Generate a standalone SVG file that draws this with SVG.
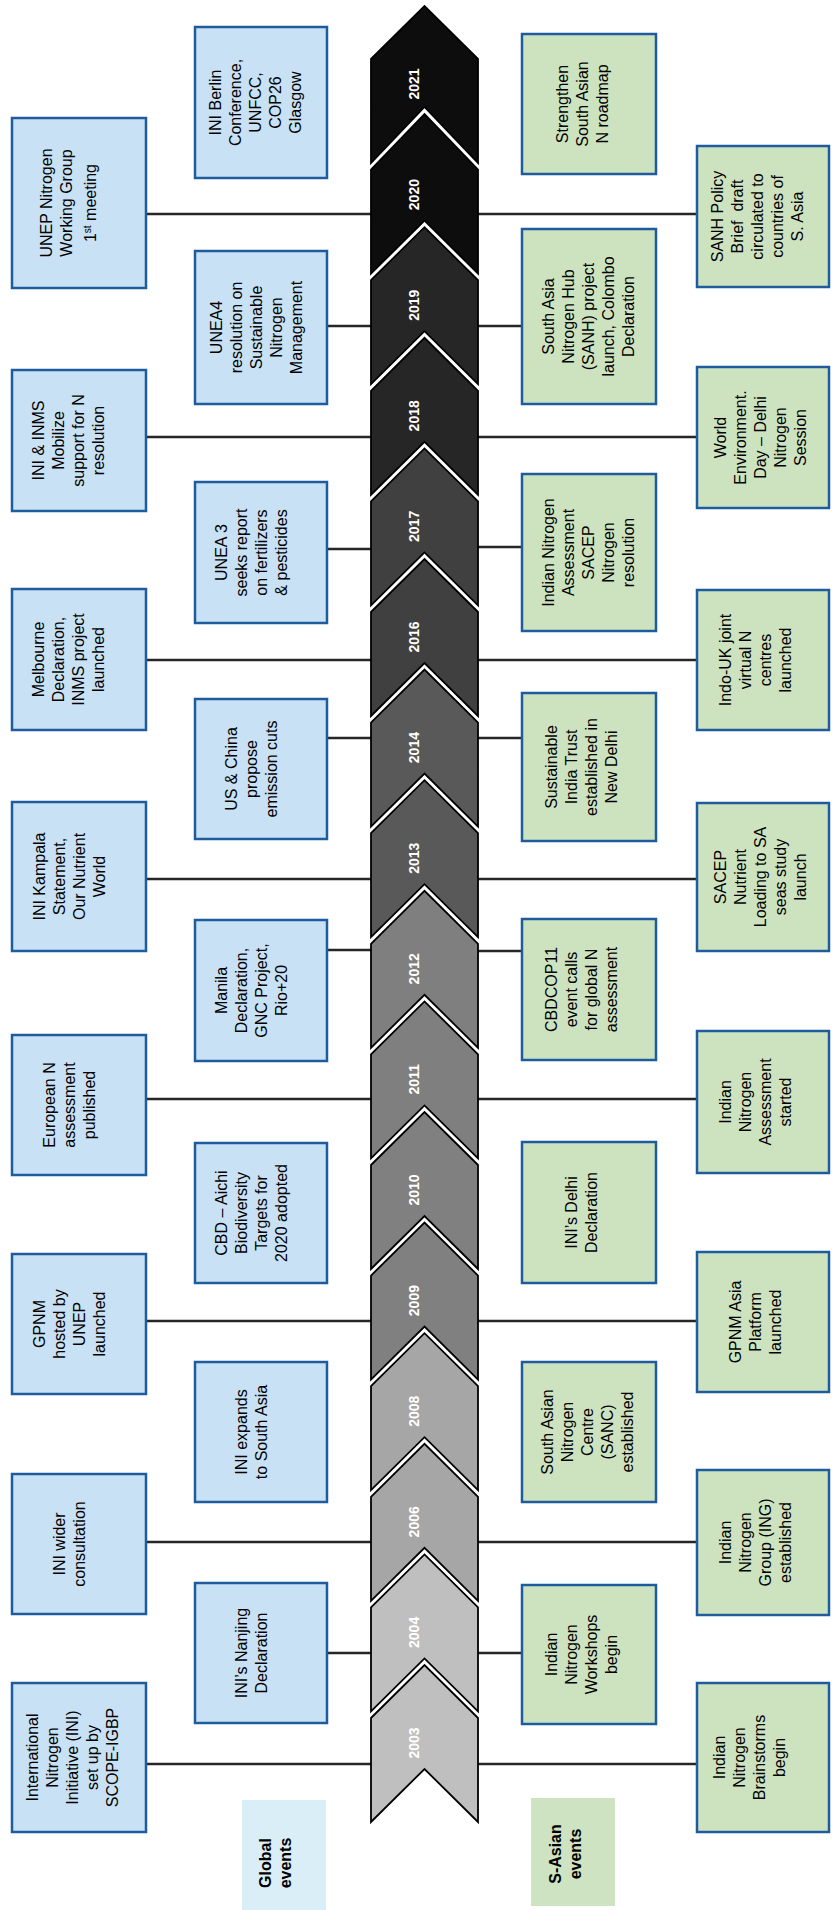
<svg xmlns="http://www.w3.org/2000/svg" width="835" height="1910" viewBox="0 0 835 1910">
<style>
.g{fill:#C8E1F5;stroke:#1F5C9E;stroke-width:2.5}
.s{fill:#CDE3C0;stroke:#1F5C9E;stroke-width:2.5}
.t{font-family:"Liberation Sans",Arial,sans-serif;font-size:16px;fill:#000;text-anchor:middle}
.b{font-weight:bold}
.yr{font-family:"Liberation Sans",Arial,sans-serif;font-size:14px;font-weight:bold;fill:#fff;text-anchor:middle}
.cv{stroke:#000;stroke-width:1.8;stroke-linejoin:miter}
.ln{stroke:#262626;stroke-width:2.4;fill:none}
</style>
<rect width="835" height="1910" fill="#fff"/>
<g id="connectors">
<path class="ln" d="M146,1764H371M478,1764H697"/>
<path class="ln" d="M327,1653H371M478,1653H522"/>
<path class="ln" d="M146,1542H371M478,1542H697"/>
<path class="ln" d="M146,1321H371M478,1321H697"/>
<path class="ln" d="M146,1099H371M478,1099H697"/>
<path class="ln" d="M327,950H371M478,951H522"/>
<path class="ln" d="M146,879H371M478,879H697"/>
<path class="ln" d="M327,738H371M478,738H522"/>
<path class="ln" d="M146,660H371M478,660H697"/>
<path class="ln" d="M327,549H371M478,547H522"/>
<path class="ln" d="M146,437H371M478,437H697"/>
<path class="ln" d="M327,326H371M478,326H522"/>
<path class="ln" d="M146,214H371M478,214H697"/>
</g>
<g id="timeline">
<g id="y2003"><polygon class="cv" fill="#BFBFBF" points="371,1718 424.5,1665 478,1718 478,1822 424.5,1769 371,1822"/><text class="yr" transform="translate(413.5,1743) rotate(-90)" y="5">2003</text></g>
<g id="y2004"><polygon class="cv" fill="#BFBFBF" points="371,1607.4 424.5,1554.4 478,1607.4 478,1711.4 424.5,1658.4 371,1711.4"/><text class="yr" transform="translate(413.5,1632.4) rotate(-90)" y="5">2004</text></g>
<g id="y2006"><polygon class="cv" fill="#A6A6A6" points="371,1496.8 424.5,1443.8 478,1496.8 478,1600.8 424.5,1547.8 371,1600.8"/><text class="yr" transform="translate(413.5,1521.8) rotate(-90)" y="5">2006</text></g>
<g id="y2008"><polygon class="cv" fill="#A6A6A6" points="371,1386.2 424.5,1333.2 478,1386.2 478,1490.2 424.5,1437.2 371,1490.2"/><text class="yr" transform="translate(413.5,1411.2) rotate(-90)" y="5">2008</text></g>
<g id="y2009"><polygon class="cv" fill="#808080" points="371,1275.6 424.5,1222.6 478,1275.6 478,1379.6 424.5,1326.6 371,1379.6"/><text class="yr" transform="translate(413.5,1300.6) rotate(-90)" y="5">2009</text></g>
<g id="y2010"><polygon class="cv" fill="#808080" points="371,1165 424.5,1112 478,1165 478,1269 424.5,1216 371,1269"/><text class="yr" transform="translate(413.5,1190) rotate(-90)" y="5">2010</text></g>
<g id="y2011"><polygon class="cv" fill="#7F7F7F" points="371,1054.4 424.5,1001.4 478,1054.4 478,1158.4 424.5,1105.4 371,1158.4"/><text class="yr" transform="translate(413.5,1079.4) rotate(-90)" y="5">2011</text></g>
<g id="y2012"><polygon class="cv" fill="#7F7F7F" points="371,943.8 424.5,890.8 478,943.8 478,1047.8 424.5,994.8 371,1047.8"/><text class="yr" transform="translate(413.5,968.8) rotate(-90)" y="5">2012</text></g>
<g id="y2013"><polygon class="cv" fill="#595959" points="371,833.2 424.5,780.2 478,833.2 478,937.2 424.5,884.2 371,937.2"/><text class="yr" transform="translate(413.5,858.2) rotate(-90)" y="5">2013</text></g>
<g id="y2014"><polygon class="cv" fill="#595959" points="371,722.6 424.5,669.6 478,722.6 478,826.6 424.5,773.6 371,826.6"/><text class="yr" transform="translate(413.5,747.6) rotate(-90)" y="5">2014</text></g>
<g id="y2016"><polygon class="cv" fill="#404040" points="371,612 424.5,559 478,612 478,716 424.5,663 371,716"/><text class="yr" transform="translate(413.5,637) rotate(-90)" y="5">2016</text></g>
<g id="y2017"><polygon class="cv" fill="#404040" points="371,501.4 424.5,448.4 478,501.4 478,605.4 424.5,552.4 371,605.4"/><text class="yr" transform="translate(413.5,526.4) rotate(-90)" y="5">2017</text></g>
<g id="y2018"><polygon class="cv" fill="#262626" points="371,390.8 424.5,337.8 478,390.8 478,494.8 424.5,441.8 371,494.8"/><text class="yr" transform="translate(413.5,415.8) rotate(-90)" y="5">2018</text></g>
<g id="y2019"><polygon class="cv" fill="#262626" points="371,280.2 424.5,227.2 478,280.2 478,384.2 424.5,331.2 371,384.2"/><text class="yr" transform="translate(413.5,305.2) rotate(-90)" y="5">2019</text></g>
<g id="y2020"><polygon class="cv" fill="#0D0D0D" points="371,169.6 424.5,114 478,169.6 478,273.6 424.5,220.6 371,273.6"/><text class="yr" transform="translate(413.5,194.6) rotate(-90)" y="5">2020</text></g>
<g id="y2021"><polygon class="cv" fill="#0D0D0D" points="371,59 424.5,6 478,59 478,163 424.5,107 371,163"/><text class="yr" transform="translate(413.5,84) rotate(-90)" y="5">2021</text></g>
</g>

<g id="n2003g"><rect class="g" x="12" y="1683" width="134" height="149"/><text class="t" transform="translate(72,1757.5) rotate(-90)"><tspan x="0" y="-34.5">International</tspan><tspan x="0" y="-14.5">Nitrogen</tspan><tspan x="0" y="5.5">Initiative (INI)</tspan><tspan x="0" y="25.5">set up by</tspan><tspan x="0" y="45.5">SCOPE-IGBP</tspan></text></g>
<g id="n2003s"><rect class="s" x="697" y="1683" width="132" height="149"/><text class="t" transform="translate(749,1757.5) rotate(-90)"><tspan x="0" y="-24.5">Indian</tspan><tspan x="0" y="-4.5">Nitrogen</tspan><tspan x="0" y="15.5">Brainstorms</tspan><tspan x="0" y="35.5">begin</tspan></text></g>
<g id="n2004g"><rect class="g" x="195" y="1583" width="132" height="140"/><text class="t" transform="translate(251,1653) rotate(-90)"><tspan x="0" y="-4.5">INI’s Nanjing</tspan><tspan x="0" y="15.5">Declaration</tspan></text></g>
<g id="n2004s"><rect class="s" x="522" y="1585" width="134" height="139"/><text class="t" transform="translate(581,1654.5) rotate(-90)"><tspan x="0" y="-24.5">Indian</tspan><tspan x="0" y="-4.5">Nitrogen</tspan><tspan x="0" y="15.5">Workshops</tspan><tspan x="0" y="35.5">begin</tspan></text></g>
<g id="n2006g"><rect class="g" x="12" y="1474" width="134" height="140"/><text class="t" transform="translate(69,1544) rotate(-90)"><tspan x="0" y="-4.5">INI wider</tspan><tspan x="0" y="15.5">consultation</tspan></text></g>
<g id="n2006s"><rect class="s" x="697" y="1470" width="132" height="145"/><text class="t" transform="translate(755,1542.5) rotate(-90)"><tspan x="0" y="-24.5">Indian</tspan><tspan x="0" y="-4.5">Nitrogen</tspan><tspan x="0" y="15.5">Group (ING)</tspan><tspan x="0" y="35.5">established</tspan></text></g>
<g id="n2008g"><rect class="g" x="195" y="1362" width="132" height="140"/><text class="t" transform="translate(251,1432) rotate(-90)"><tspan x="0" y="-4.5">INI expands</tspan><tspan x="0" y="15.5">to South Asia</tspan></text></g>
<g id="n2008s"><rect class="s" x="522" y="1362" width="134" height="140"/><text class="t" transform="translate(587,1432) rotate(-90)"><tspan x="0" y="-34.5">South Asian</tspan><tspan x="0" y="-14.5">Nitrogen</tspan><tspan x="0" y="5.5">Centre</tspan><tspan x="0" y="25.5">(SANC)</tspan><tspan x="0" y="45.5">established</tspan></text></g>
<g id="n2009g"><rect class="g" x="12" y="1254" width="134" height="140"/><text class="t" transform="translate(69,1324) rotate(-90)"><tspan x="0" y="-24.5">GPNM</tspan><tspan x="0" y="-4.5">hosted by</tspan><tspan x="0" y="15.5">UNEP</tspan><tspan x="0" y="35.5">launched</tspan></text></g>
<g id="n2009s"><rect class="s" x="697" y="1252" width="132" height="140"/><text class="t" transform="translate(755,1322) rotate(-90)"><tspan x="0" y="-14.5">GPNM Asia</tspan><tspan x="0" y="5.5">Platform</tspan><tspan x="0" y="25.5">launched</tspan></text></g>
<g id="n2010g"><rect class="g" x="195" y="1143" width="132" height="140"/><text class="t" transform="translate(251,1213) rotate(-90)"><tspan x="0" y="-24.5">CBD – Aichi</tspan><tspan x="0" y="-4.5">Biodiversity</tspan><tspan x="0" y="15.5">Targets for</tspan><tspan x="0" y="35.5">2020 adopted</tspan></text></g>
<g id="n2010s"><rect class="s" x="522" y="1142" width="134" height="141"/><text class="t" transform="translate(581,1212.5) rotate(-90)"><tspan x="0" y="-4.5">INI’s Delhi</tspan><tspan x="0" y="15.5">Declaration</tspan></text></g>
<g id="n2011g"><rect class="g" x="12" y="1035" width="134" height="140"/><text class="t" transform="translate(69,1105) rotate(-90)"><tspan x="0" y="-14.5">European N</tspan><tspan x="0" y="5.5">assessment</tspan><tspan x="0" y="25.5">published</tspan></text></g>
<g id="n2011s"><rect class="s" x="697" y="1031" width="132" height="142"/><text class="t" transform="translate(755,1102) rotate(-90)"><tspan x="0" y="-24.5">Indian</tspan><tspan x="0" y="-4.5">Nitrogen</tspan><tspan x="0" y="15.5">Assessment</tspan><tspan x="0" y="35.5">started</tspan></text></g>
<g id="n2012g"><rect class="g" x="195" y="920" width="132" height="141"/><text class="t" transform="translate(251,990.5) rotate(-90)"><tspan x="0" y="-24.5">Manila</tspan><tspan x="0" y="-4.5">Declaration,</tspan><tspan x="0" y="15.5">GNC Project,</tspan><tspan x="0" y="35.5">Rio+20</tspan></text></g>
<g id="n2012s"><rect class="s" x="522" y="919" width="134" height="141"/><text class="t" transform="translate(581,989.5) rotate(-90)"><tspan x="0" y="-24.5">CBDCOP11</tspan><tspan x="0" y="-4.5">event calls</tspan><tspan x="0" y="15.5">for global N</tspan><tspan x="0" y="35.5">assessment</tspan></text></g>
<g id="n2013g"><rect class="g" x="12" y="802" width="134" height="149"/><text class="t" transform="translate(69,876.5) rotate(-90)"><tspan x="0" y="-24.5">INI Kampala</tspan><tspan x="0" y="-4.5">Statement,</tspan><tspan x="0" y="15.5">Our Nutrient</tspan><tspan x="0" y="35.5">World</tspan></text></g>
<g id="n2013s"><rect class="s" x="697" y="803" width="132" height="148"/><text class="t" transform="translate(760,877) rotate(-90)"><tspan x="0" y="-34.5">SACEP</tspan><tspan x="0" y="-14.5">Nutrient</tspan><tspan x="0" y="5.5">Loading to SA</tspan><tspan x="0" y="25.5">seas study</tspan><tspan x="0" y="45.5">launch</tspan></text></g>
<g id="n2014g"><rect class="g" x="195" y="699" width="132" height="140"/><text class="t" transform="translate(251,769) rotate(-90)"><tspan x="0" y="-14.5">US &amp; China</tspan><tspan x="0" y="5.5">propose</tspan><tspan x="0" y="25.5">emission cuts</tspan></text></g>
<g id="n2014s"><rect class="s" x="522" y="693" width="134" height="148"/><text class="t" transform="translate(581,767) rotate(-90)"><tspan x="0" y="-24.5">Sustainable</tspan><tspan x="0" y="-4.5">India Trust</tspan><tspan x="0" y="15.5">established in</tspan><tspan x="0" y="35.5">New Delhi</tspan></text></g>
<g id="n2016g"><rect class="g" x="12" y="589" width="134" height="141"/><text class="t" transform="translate(68,659.5) rotate(-90)"><tspan x="0" y="-24.5">Melbourne</tspan><tspan x="0" y="-4.5">Declaration,</tspan><tspan x="0" y="15.5">INMS project</tspan><tspan x="0" y="35.5">launched</tspan></text></g>
<g id="n2016s"><rect class="s" x="697" y="590" width="132" height="140"/><text class="t" transform="translate(755,660) rotate(-90)"><tspan x="0" y="-24.5">Indo-UK joint</tspan><tspan x="0" y="-4.5">virtual N</tspan><tspan x="0" y="15.5">centres</tspan><tspan x="0" y="35.5">launched</tspan></text></g>
<g id="n2017g"><rect class="g" x="195" y="482" width="132" height="141"/><text class="t" transform="translate(251,552.5) rotate(-90)"><tspan x="0" y="-24.5">UNEA 3</tspan><tspan x="0" y="-4.5">seeks report</tspan><tspan x="0" y="15.5">on fertilizers</tspan><tspan x="0" y="35.5">&amp; pesticides</tspan></text></g>
<g id="n2017s"><rect class="s" x="522" y="474" width="134" height="157"/><text class="t" transform="translate(588,552.5) rotate(-90)"><tspan x="0" y="-34.5">Indian Nitrogen</tspan><tspan x="0" y="-14.5">Assessment</tspan><tspan x="0" y="5.5">SACEP</tspan><tspan x="0" y="25.5">Nitrogen</tspan><tspan x="0" y="45.5">resolution</tspan></text></g>
<g id="n2018g"><rect class="g" x="12" y="370" width="134" height="141"/><text class="t" transform="translate(68,440.5) rotate(-90)"><tspan x="0" y="-24.5">INI &amp; INMS</tspan><tspan x="0" y="-4.5">Mobilize</tspan><tspan x="0" y="15.5">support for N</tspan><tspan x="0" y="35.5">resolution</tspan></text></g>
<g id="n2018s"><rect class="s" x="697" y="367" width="132" height="141"/><text class="t" transform="translate(760,437.5) rotate(-90)"><tspan x="0" y="-34.5">World</tspan><tspan x="0" y="-14.5">Environment.</tspan><tspan x="0" y="5.5">Day – Delhi</tspan><tspan x="0" y="25.5">Nitrogen</tspan><tspan x="0" y="45.5">Session</tspan></text></g>
<g id="n2019g"><rect class="g" x="195" y="251" width="132" height="153"/><text class="t" transform="translate(256,327.5) rotate(-90)"><tspan x="0" y="-34.5">UNEA4</tspan><tspan x="0" y="-14.5">resolution on</tspan><tspan x="0" y="5.5">Sustainable</tspan><tspan x="0" y="25.5">Nitrogen</tspan><tspan x="0" y="45.5">Management</tspan></text></g>
<g id="n2019s"><rect class="s" x="522" y="229" width="134" height="175"/><text class="t" transform="translate(588,316.5) rotate(-90)"><tspan x="0" y="-34.5">South Asia</tspan><tspan x="0" y="-14.5">Nitrogen Hub</tspan><tspan x="0" y="5.5">(SANH) project</tspan><tspan x="0" y="25.5">launch, Colombo</tspan><tspan x="0" y="45.5">Declaration</tspan></text></g>
<g id="n2020g"><rect class="g" x="12" y="118" width="134" height="170"/><text class="t" transform="translate(68,203) rotate(-90)"><tspan x="0" y="-16.5">UNEP Nitrogen</tspan><tspan x="0" y="3.5">Working Group</tspan><tspan x="0" y="27.5">1<tspan font-size="10" baseline-shift="super">st</tspan> meeting</tspan></text></g>
<g id="n2020s"><rect class="s" x="697" y="146" width="132" height="141"/><text class="t" transform="translate(757,216.5) rotate(-90)"><tspan x="0" y="-34.5">SANH Policy</tspan><tspan x="0" y="-14.5">Brief&#160; draft</tspan><tspan x="0" y="5.5">circulated to</tspan><tspan x="0" y="25.5">countries of</tspan><tspan x="0" y="45.5">S. Asia</tspan></text></g>
<g id="n2021g"><rect class="g" x="195" y="27" width="132" height="151"/><text class="t" transform="translate(255,102.5) rotate(-90)"><tspan x="0" y="-34.5">INI Berlin</tspan><tspan x="0" y="-14.5">Conference,</tspan><tspan x="0" y="5.5">UNFCC,</tspan><tspan x="0" y="25.5">COP26</tspan><tspan x="0" y="45.5">Glasgow</tspan></text></g>
<g id="n2021s"><rect class="s" x="522" y="34" width="134" height="140"/><text class="t" transform="translate(582,104) rotate(-90)"><tspan x="0" y="-14.5">Strengthen</tspan><tspan x="0" y="5.5">South Asian</tspan><tspan x="0" y="25.5">N roadmap</tspan></text></g>

<g id="legend-global"><rect x="242" y="1800" width="84" height="110" fill="#DAEEF8"/><text class="t b" transform="translate(275,1863) rotate(-90)"><tspan x="0" y="-4.5">Global</tspan><tspan x="0" y="15.5">events</tspan></text></g>
<g id="legend-sasian"><rect x="531" y="1798" width="84" height="108" fill="#CDE3C1"/><text class="t b" transform="translate(565,1854) rotate(-90)"><tspan x="0" y="-4.5">S-Asian</tspan><tspan x="0" y="15.5">events</tspan></text></g>
</svg>
